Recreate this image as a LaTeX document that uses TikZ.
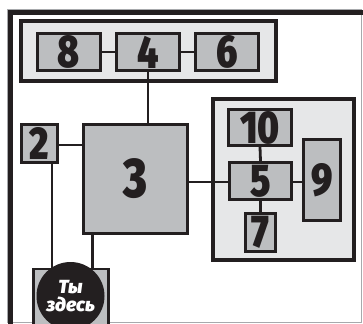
\documentclass[tikz,border=0pt]{standalone}
\usepackage{fontspec}
\newfontfamily\heavy{Fira Sans}[UprightFont={* Black},ItalicFont={* Black Italic}]
\newfontfamily\narrow{Fira Sans}[UprightFont={* Black},FakeStretch=0.8]
\definecolor{ink}{HTML}{231F20}
\definecolor{pale}{HTML}{E6E7E8}
\definecolor{mid}{HTML}{BCBEC0}
\definecolor{rim}{HTML}{A7A9AC}
\tikzset{
  zone/.style={draw=ink,fill=pale,line width=4pt,inner sep=0pt},
  room/.style={draw=ink,fill=mid,line width=2.8pt,inner sep=0pt,font=\narrow\fontsize{46}{46}\selectfont,text=ink},
  link/.style={draw=ink,line width=2.8pt}
}
\begin{document}
\begin{tikzpicture}[x=1pt,y=-1pt,line join=miter]
\useasboundingbox (0,0) rectangle (363,323);
\clip (0,0) rectangle (363,323);
% outer frame
\draw[rim,line width=0.8pt] (7,9) rectangle (361,322);
\draw[ink,line width=5pt] (10,330) -- (10,12.5) -- (370,12.5);
% zones
\node[zone,minimum width=255pt,minimum height=60pt] (top) at (148.5,51) {};
\node[zone,minimum width=141pt,minimum height=161pt] (right) at (283.5,179.5) {};
% rooms
\node[room,minimum width=63.5pt,minimum height=37.5pt] (r8) at (69,52) {8};
\node[room,minimum width=63.5pt,minimum height=37.5pt] (r4) at (148,52) {4};
\node[room,minimum width=63.5pt,minimum height=37.5pt] (r6) at (227,52) {6};
\node[room,minimum width=104.5pt,minimum height=109.5pt,font=\narrow\fontsize{56}{56}\selectfont] (r3) at (135.5,179) {3};
\node[room,minimum width=36.5pt,minimum height=38.5pt] (r2) at (39.5,143.5) {2};
\node[room,minimum width=63.5pt,minimum height=36.5pt] (r10) at (260,127.5) {10};
\node[room,minimum width=62.5pt,minimum height=37.5pt] (r5) at (260.5,181) {5};
\node[room,minimum width=37.5pt,minimum height=81.5pt] (r9) at (322,180) {9};
\node[room,minimum width=30.5pt,minimum height=38.5pt] (r7) at (260.5,232.5) {7};
\node[room,minimum width=75.5pt,minimum height=70pt] (r1) at (71,304) {};
% links
\draw[link] (r8.east) -- (r4.west);
\draw[link] (r4.east) -- (r6.west);
\draw[link] (r4.south) -- (r4.south |- r3.north);
\draw[link] (r2.east |- 0,145) -- (r3.west |- 0,145);
\draw[link] ([xshift=12.5pt]r2.south) -- ([xshift=12.5pt]r2.south |- r1.north);
\draw[link] ([xshift=11pt]r3.south west) -- ([xshift=11pt]r3.south west |- r1.north);
\draw[link] (r3.east |- 0,182) -- (r5.west |- 0,182);
\draw[link] (r5.east |- 0,182) -- (r9.west |- 0,182);
\draw[link] (r10.south) -- (r5.north);
\draw[link] (r5.south) -- (r7.north);
% you are here
\node[circle,fill=ink,minimum size=68pt,inner sep=0pt,text=white,align=center,
  font=\heavy\itshape\fontsize{19}{17.5}\selectfont] (here) at (70.5,296) {Ты\\здесь};
\end{tikzpicture}
\end{document}
